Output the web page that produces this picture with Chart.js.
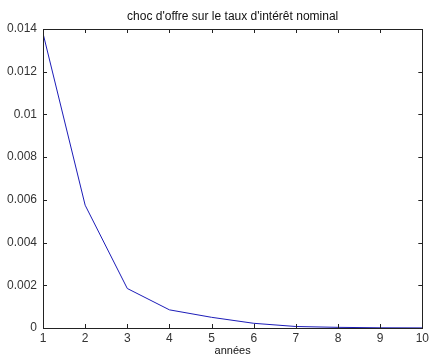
<!DOCTYPE html>
<html>
<head>
<meta charset="utf-8">
<script src="https://cdn.jsdelivr.net/npm/chart.js@4"></script>
<style>
  html, body { margin: 0; padding: 0; background: #fff; }
  #wrap { width: 432px; height: 358px; }
</style>
</head>
<body>
<div id="wrap"><canvas id="chart"></canvas></div>
<script>
const years = [1, 2, 3, 4, 5, 6, 7, 8, 9, 10];
const tauxNominal = [0.0138, 0.00575, 0.00185, 0.00085, 0.0005, 0.00022, 0.00007, 0.00003, 0.00001, 0.000005];
const titleText = "choc d'offre sur le taux d'intérêt nominal";
const xLabel = 'années';

// cadre + graduations vers l'intérieur, comme matlab
const matlabFrame = {
    id: 'matlabFrame',
    afterDatasetsDraw(chart) {
        const { ctx, chartArea: a, scales: { x, y } } = chart;
        ctx.save();
        ctx.strokeStyle = '#222';
        ctx.lineWidth = 1;
        ctx.strokeRect(Math.round(a.left) + 0.5, Math.round(a.top) + 0.5,
            Math.round(a.right - a.left), Math.round(a.bottom - a.top));
        ctx.beginPath();
        x.ticks.forEach(t => {
            const px = Math.round(x.getPixelForValue(t.value)) + 0.5;
            ctx.moveTo(px, a.bottom); ctx.lineTo(px, a.bottom - 4);
            ctx.moveTo(px, a.top); ctx.lineTo(px, a.top + 4);
        });
        y.ticks.forEach(t => {
            const py = Math.round(y.getPixelForValue(t.value)) + 0.5;
            ctx.moveTo(a.left, py); ctx.lineTo(a.left + 4, py);
            ctx.moveTo(a.right, py); ctx.lineTo(a.right - 4, py);
        });
        ctx.stroke();
        ctx.restore();
    }
};

Chart.defaults.font.family = '"Liberation Sans", Arial, sans-serif';
Chart.defaults.color = '#333';

new Chart(document.getElementById('chart'), {
    type: 'line',
    data: {
        datasets: [{
            data: years.map((yr, i) => ({ x: yr, y: tauxNominal[i] })),
            borderColor: '#1c1cb8',
            borderWidth: 1,
            pointRadius: 0,
            tension: 0,
            fill: false
        }]
    },
    options: {
        responsive: true,
        maintainAspectRatio: false,
        animation: false,
        layout: { padding: { top: 0, right: 8, bottom: 0, left: 0 } },
        plugins: {
            legend: { display: false },
            tooltip: { enabled: false }
        },
        scales: {
            x: {
                type: 'linear',
                min: 1,
                max: 10,
                grid: { display: false, drawTicks: false, tickLength: 0 },
                border: { display: false },
                ticks: { stepSize: 1, padding: 3, font: { size: 12 }, maxRotation: 0 },
                title: { display: true, text: xLabel, color: '#111', font: { size: 11 }, padding: 0 },
                afterFit: scale => { scale.height = 30; }
            },
            // axe du haut : sert seulement a centrer le titre sur la zone du graphe
            xTop: {
                type: 'linear',
                position: 'top',
                min: 1,
                max: 10,
                grid: { display: false, drawTicks: false, tickLength: 0 },
                border: { display: false },
                ticks: { display: false },
                title: {
                    display: true,
                    text: titleText,
                    color: '#111',
                    font: { size: 12 },
                    padding: { top: 9, bottom: 6 }
                },
                afterFit: scale => { scale.height = 29; }
            },
            y: {
                min: 0,
                max: 0.014,
                grid: { display: false, drawTicks: false, tickLength: 0 },
                border: { display: false },
                ticks: {
                    stepSize: 0.002,
                    padding: 6,
                    font: { size: 12 },
                    callback: v => String(+v.toFixed(3))
                },
                afterFit: scale => { scale.width = 43; }
            }
        }
    },
    plugins: [matlabFrame]
});
</script>
</body>
</html>
